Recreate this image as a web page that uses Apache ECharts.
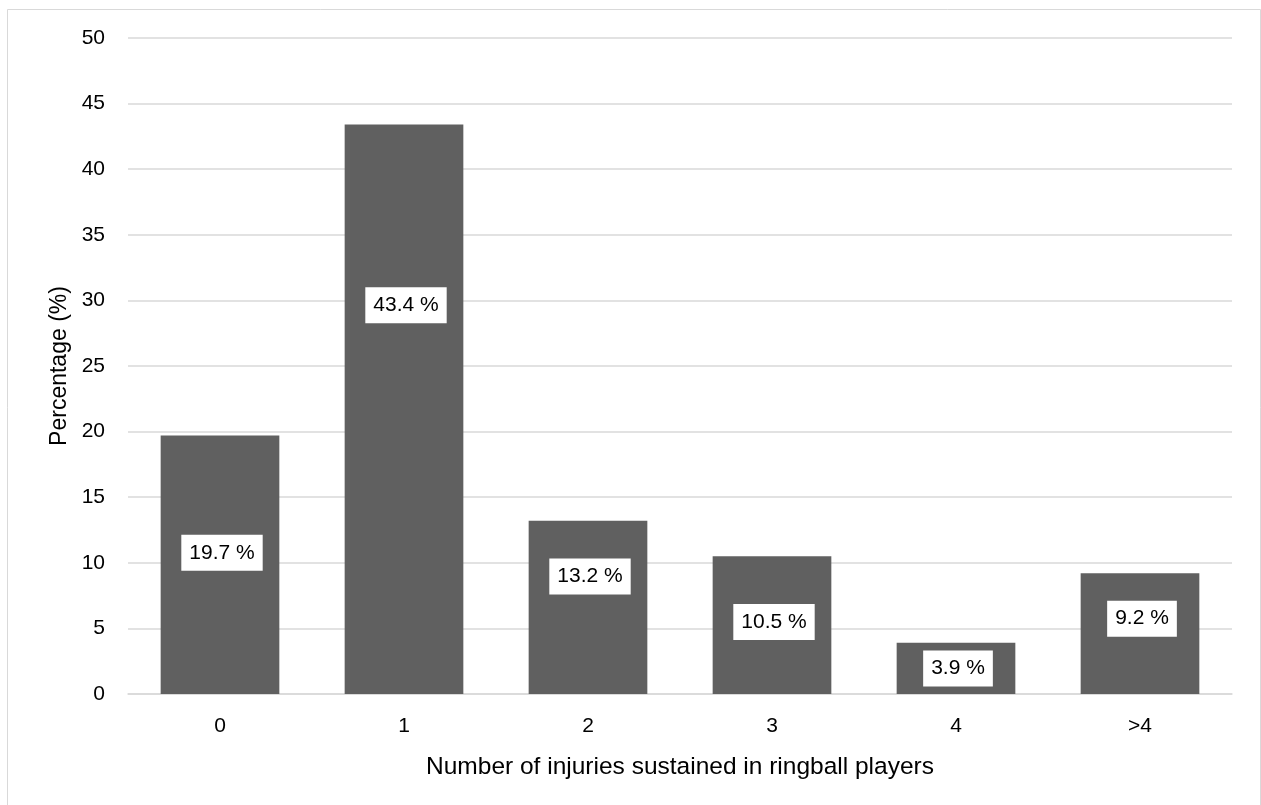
<!DOCTYPE html>
<html>
<head>
<meta charset="utf-8">
<script src="https://cdn.jsdelivr.net/npm/echarts@6/dist/echarts.min.js"></script>
<style>
html,body{margin:0;padding:0;background:#fff;}
#c{width:1261px;height:805px;}
</style>
</head>
<body>
<div id="c"></div>
<script>
const categories = ['0', '1', '2', '3', '4', '>4'];
const percentages = [19.7, 43.4, 13.2, 10.5, 3.9, 9.2];
const yTicks = { min: 0, max: 50, interval: 5 };
const xTitle = 'Number of injuries sustained in ringball players';
const yTitle = 'Percentage (%)';

// label vertical shifts (px) relative to bar centre, matching reference placement
const labelShift = [-12, -104, -31, -3, 0, -15];

const FONT = '"Liberation Sans", Arial, sans-serif';
const chart = echarts.init(document.getElementById('c'), null, { renderer: 'canvas' });

chart.setOption({
  backgroundColor: '#ffffff',
  animation: false,
  graphic: [{
    type: 'rect',
    shape: { x: 7.5, y: 9.5, width: 1253, height: 900 },
    style: { fill: 'none', stroke: '#d9d9d9', lineWidth: 1 },
    silent: true
  }],
  grid: { left: 128, right: 29, top: 38, bottom: 111, containLabel: false },
  xAxis: {
    type: 'category',
    data: categories,
    axisLine: { show: true, lineStyle: { color: '#d9d9d9', width: 1.5 } },
    axisTick: { show: false },
    axisLabel: { color: '#000', fontFamily: FONT, fontSize: 21, margin: 22 },
    name: xTitle,
    nameLocation: 'middle',
    nameGap: 61,
    nameTextStyle: { color: '#000', fontFamily: FONT, fontSize: 24.5 }
  },
  yAxis: {
    type: 'value',
    min: yTicks.min,
    max: yTicks.max,
    interval: yTicks.interval,
    axisLine: { show: false },
    axisTick: { show: false },
    splitLine: { lineStyle: { color: '#d9d9d9', width: 1.5 } },
    axisLabel: { color: '#000', fontFamily: FONT, fontSize: 21, margin: 23 },
    name: yTitle,
    nameLocation: 'middle',
    nameGap: 57,
    nameRotate: 90,
    nameTextStyle: { color: '#000', fontFamily: FONT, fontSize: 23 }
  },
  series: [{
    type: 'bar',
    barCategoryGap: '35.5%',
    itemStyle: { color: '#606060' },
    data: percentages.map((v, i) => ({
      value: v,
      label: { offset: [2, labelShift[i]] }
    })),
    label: {
      show: true,
      position: 'inside',
      formatter: p => p.value.toFixed(1) + ' %',
      color: '#000',
      fontFamily: FONT,
      fontSize: 21,
      backgroundColor: '#ffffff',
      padding: [7.5, 8, 7.5, 8]
    }
  }]
});
</script>
</body>
</html>
